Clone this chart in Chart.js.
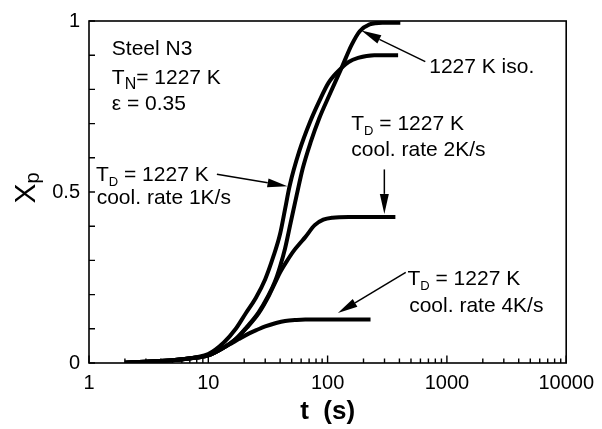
<!DOCTYPE html>
<html>
<head>
<meta charset="utf-8">
<script src="https://cdn.jsdelivr.net/npm/chart.js@4.4.1/dist/chart.umd.min.js"></script>
<style>
  html, body { margin: 0; padding: 0; background: #fff; }
  #wrap { width: 602px; height: 429px; }
</style>
</head>
<body>
<div id="wrap"><canvas id="c" width="602" height="429"></canvas></div>
<script>
// Holding time t (s) and transformed fraction Xp for each condition
const tIso = [2, 3, 5, 8, 10, 13.5, 17, 21, 26.4, 32, 36, 40, 44, 49, 55, 62, 72, 85, 104, 131, 159, 186, 225, 288, 407];
const xIso = [0.001, 0.004, 0.008, 0.016, 0.022, 0.045, 0.07, 0.105, 0.148, 0.198, 0.236, 0.283, 0.335, 0.41, 0.49, 0.57, 0.645, 0.715, 0.785, 0.863, 0.93, 0.97, 0.99, 0.995, 0.995];

const t1K = [2, 3, 5, 8, 10, 13.5, 17, 20.5, 25, 30, 35, 40, 44, 48, 58, 71.5, 85, 102, 131, 150, 180, 246, 390];
const x1K = [0.001, 0.004, 0.008, 0.017, 0.026, 0.06, 0.1, 0.144, 0.19, 0.245, 0.31, 0.378, 0.45, 0.517, 0.62, 0.706, 0.765, 0.82, 0.863, 0.88, 0.892, 0.9, 0.9];

const t2K = [2, 3, 5, 8, 10, 13.5, 17, 21, 26.4, 32, 36, 40, 45, 52, 58, 65, 78, 92, 110, 150, 370];
const x2K = [0.001, 0.004, 0.008, 0.016, 0.022, 0.045, 0.07, 0.103, 0.145, 0.195, 0.232, 0.265, 0.295, 0.328, 0.348, 0.368, 0.403, 0.419, 0.425, 0.427, 0.427];

const t4K = [2, 3, 5, 8, 10, 13.5, 15.7, 18, 21.8, 26, 30, 37, 44, 55, 65, 229];
const x4K = [0.001, 0.004, 0.008, 0.016, 0.022, 0.045, 0.058, 0.07, 0.086, 0.098, 0.107, 0.117, 0.123, 0.126, 0.127, 0.127];

// Axis ticks
const xTickValues = [1,2,3,4,5,6,7,8,9,10,20,30,40,50,60,70,80,90,100,200,300,400,500,600,700,800,900,1000,2000,3000,4000,5000,6000,7000,8000,9000,10000];
const xTickLabels = {1: '1', 10: '10', 100: '100', 1000: '1000', 10000: '10000'};
const yTickValues = [0, 0.1, 0.2, 0.3, 0.4, 0.5, 0.6, 0.7, 0.8, 0.9, 1];
const yTickLabels = {0: '0', 0.5: '0.5', 1: '1'};

const FONT = '"Liberation Sans", Arial, sans-serif';

// Text notes: anchor (t, Xp) at left/baseline; runs = [text, size, baseline shift]
const notes = [
  {t: 1.553, X: 0.901, runs: [['Steel N3', 21, 0]]},
  {t: 1.553, X: 0.817, runs: [['T', 21, 0], ['N', 16, 5], ['= 1227 K', 21, 0]]},
  {t: 1.553, X: 0.741, runs: [['\u03b5 = 0.35', 21, 0]]},
  {t: 1.144, X: 0.532, runs: [['T', 21, 0], ['D', 13, 5], [' = 1227 K', 21, 0]]},
  {t: 1.16,  X: 0.465, runs: [['cool. rate 1K/s', 21, 0]]},
  {t: 711,   X: 0.847, runs: [['1227 K iso.', 21, 0]]},
  {t: 158,   X: 0.682, runs: [['T', 21, 0], ['D', 13, 5], [' = 1227 K', 21, 0]]},
  {t: 158,   X: 0.605, runs: [['cool. rate 2K/s', 21, 0]]},
  {t: 467,   X: 0.227, runs: [['T', 21, 0], ['D', 13, 5], [' = 1227 K', 21, 0]]},
  {t: 483,   X: 0.149, runs: [['cool. rate 4K/s', 21, 0]]}
];

// Pointer arrows: from (t, Xp) to (t, Xp)
const arrows = [
  {from: [11.8, 0.552], to: [46.1, 0.517]},
  {from: [659, 0.881],  to: [192, 0.972]},
  {from: [299, 0.566],  to: [299, 0.436]},
  {from: [452, 0.265],  to: [122, 0.146]}
];

function series(ts, xs) {
  return ts.map((t, i) => ({x: t, y: xs[i]}));
}

function curve(ts, xs) {
  return {
    data: series(ts, xs),
    borderColor: '#000',
    borderWidth: 4,
    pointRadius: 0,
    fill: false,
    cubicInterpolationMode: 'monotone',
    borderCapStyle: 'butt'
  };
}

const isDecade = v => Math.abs(Math.log10(v) - Math.round(Math.log10(v))) < 1e-9;

function drawRuns(ctx, x, y, runs) {
  let cx = x;
  runs.forEach(([txt, size, dy]) => {
    ctx.font = size + 'px ' + FONT;
    ctx.fillText(txt, cx, y + dy);
    cx += ctx.measureText(txt).width;
  });
}

function drawArrow(ctx, x0, y0, x1, y1) {
  const ang = Math.atan2(y1 - y0, x1 - x0);
  const len = 20, half = 4.5;
  const bx = x1 - len * Math.cos(ang), by = y1 - len * Math.sin(ang);
  ctx.beginPath();
  ctx.moveTo(x0, y0);
  ctx.lineTo(bx, by);
  ctx.lineWidth = 1.5;
  ctx.stroke();
  ctx.beginPath();
  ctx.moveTo(x1, y1);
  ctx.lineTo(bx + half * Math.sin(ang), by - half * Math.cos(ang));
  ctx.lineTo(bx - half * Math.sin(ang), by + half * Math.cos(ang));
  ctx.closePath();
  ctx.fill();
}

const decorations = {
  id: 'decorations',
  afterDraw(chart) {
    const {ctx, chartArea: a, scales: {x, y}} = chart;
    ctx.save();
    ctx.strokeStyle = '#000';
    ctx.fillStyle = '#000';

    // plot frame
    ctx.lineWidth = 1.6;
    ctx.strokeRect(a.left, a.top, a.right - a.left, a.bottom - a.top);

    // inward tick marks
    ctx.beginPath();
    x.ticks.forEach(tk => {
      const px = x.getPixelForValue(tk.value);
      const len = isDecade(tk.value) ? 7.5 : 4.5;
      ctx.moveTo(px, a.bottom);
      ctx.lineTo(px, a.bottom - len);
    });
    y.ticks.forEach(tk => {
      const py = y.getPixelForValue(tk.value);
      ctx.moveTo(a.left, py);
      ctx.lineTo(a.left + 6, py);
    });
    ctx.lineWidth = 1.4;
    ctx.stroke();

    // y-axis title Xp
    ctx.save();
    ctx.font = '30px ' + FONT;
    const wX = ctx.measureText('X').width;
    ctx.font = '20px ' + FONT;
    const wP = ctx.measureText('p').width;
    const mid = (a.top + a.bottom) / 2 - 4;
    ctx.translate(y.left + 35, mid + (wX + wP) / 2);
    ctx.rotate(-Math.PI / 2);
    ctx.textBaseline = 'alphabetic';
    ctx.font = '30px ' + FONT;
    ctx.fillText('X', 0, 0);
    ctx.font = '20px ' + FONT;
    ctx.fillText('p', wX, 4);
    ctx.restore();

    // text notes
    ctx.textBaseline = 'alphabetic';
    ctx.textAlign = 'left';
    notes.forEach(n => {
      drawRuns(ctx, x.getPixelForValue(n.t), y.getPixelForValue(n.X), n.runs);
    });

    // arrows
    arrows.forEach(ar => {
      drawArrow(ctx,
        x.getPixelForValue(ar.from[0]), y.getPixelForValue(ar.from[1]),
        x.getPixelForValue(ar.to[0]), y.getPixelForValue(ar.to[1]));
    });
    ctx.restore();
  }
};

new Chart(document.getElementById('c'), {
  type: 'line',
  data: {
    datasets: [
      curve(tIso, xIso),
      curve(t1K, x1K),
      curve(t2K, x2K),
      curve(t4K, x4K)
    ]
  },
  options: {
    responsive: false,
    animation: false,
    devicePixelRatio: 1,
    layout: {padding: {left: 0, top: 19, right: 32, bottom: 0}},
    plugins: {legend: {display: false}, tooltip: {enabled: false}},
    scales: {
      x: {
        type: 'logarithmic',
        min: 1,
        max: 10000,
        afterBuildTicks: s => { s.ticks = xTickValues.map(v => ({value: v})); },
        afterFit: s => { s.height = 66; },
        grid: {display: false, drawTicks: false},
        border: {display: false},
        ticks: {
          autoSkip: false,
          maxRotation: 0,
          padding: 8,
          color: '#000',
          font: {family: FONT, size: 20},
          callback: v => xTickLabels[v] || ''
        },
        title: {
          display: true,
          text: 't  (s)',
          color: '#000',
          font: {family: FONT, size: 26, weight: 'bold'},
          padding: {top: 0, bottom: 2}
        }
      },
      y: {
        type: 'linear',
        min: 0,
        max: 1,
        afterBuildTicks: s => { s.ticks = yTickValues.map(v => ({value: v})); },
        afterFit: s => { s.width = 89; },
        grid: {display: false, drawTicks: false},
        border: {display: false},
        ticks: {
          autoSkip: false,
          padding: 9,
          color: '#000',
          font: {family: FONT, size: 20},
          callback: v => (v in yTickLabels ? yTickLabels[v] : '')
        }
      }
    }
  },
  plugins: [decorations]
});
</script>
</body>
</html>
